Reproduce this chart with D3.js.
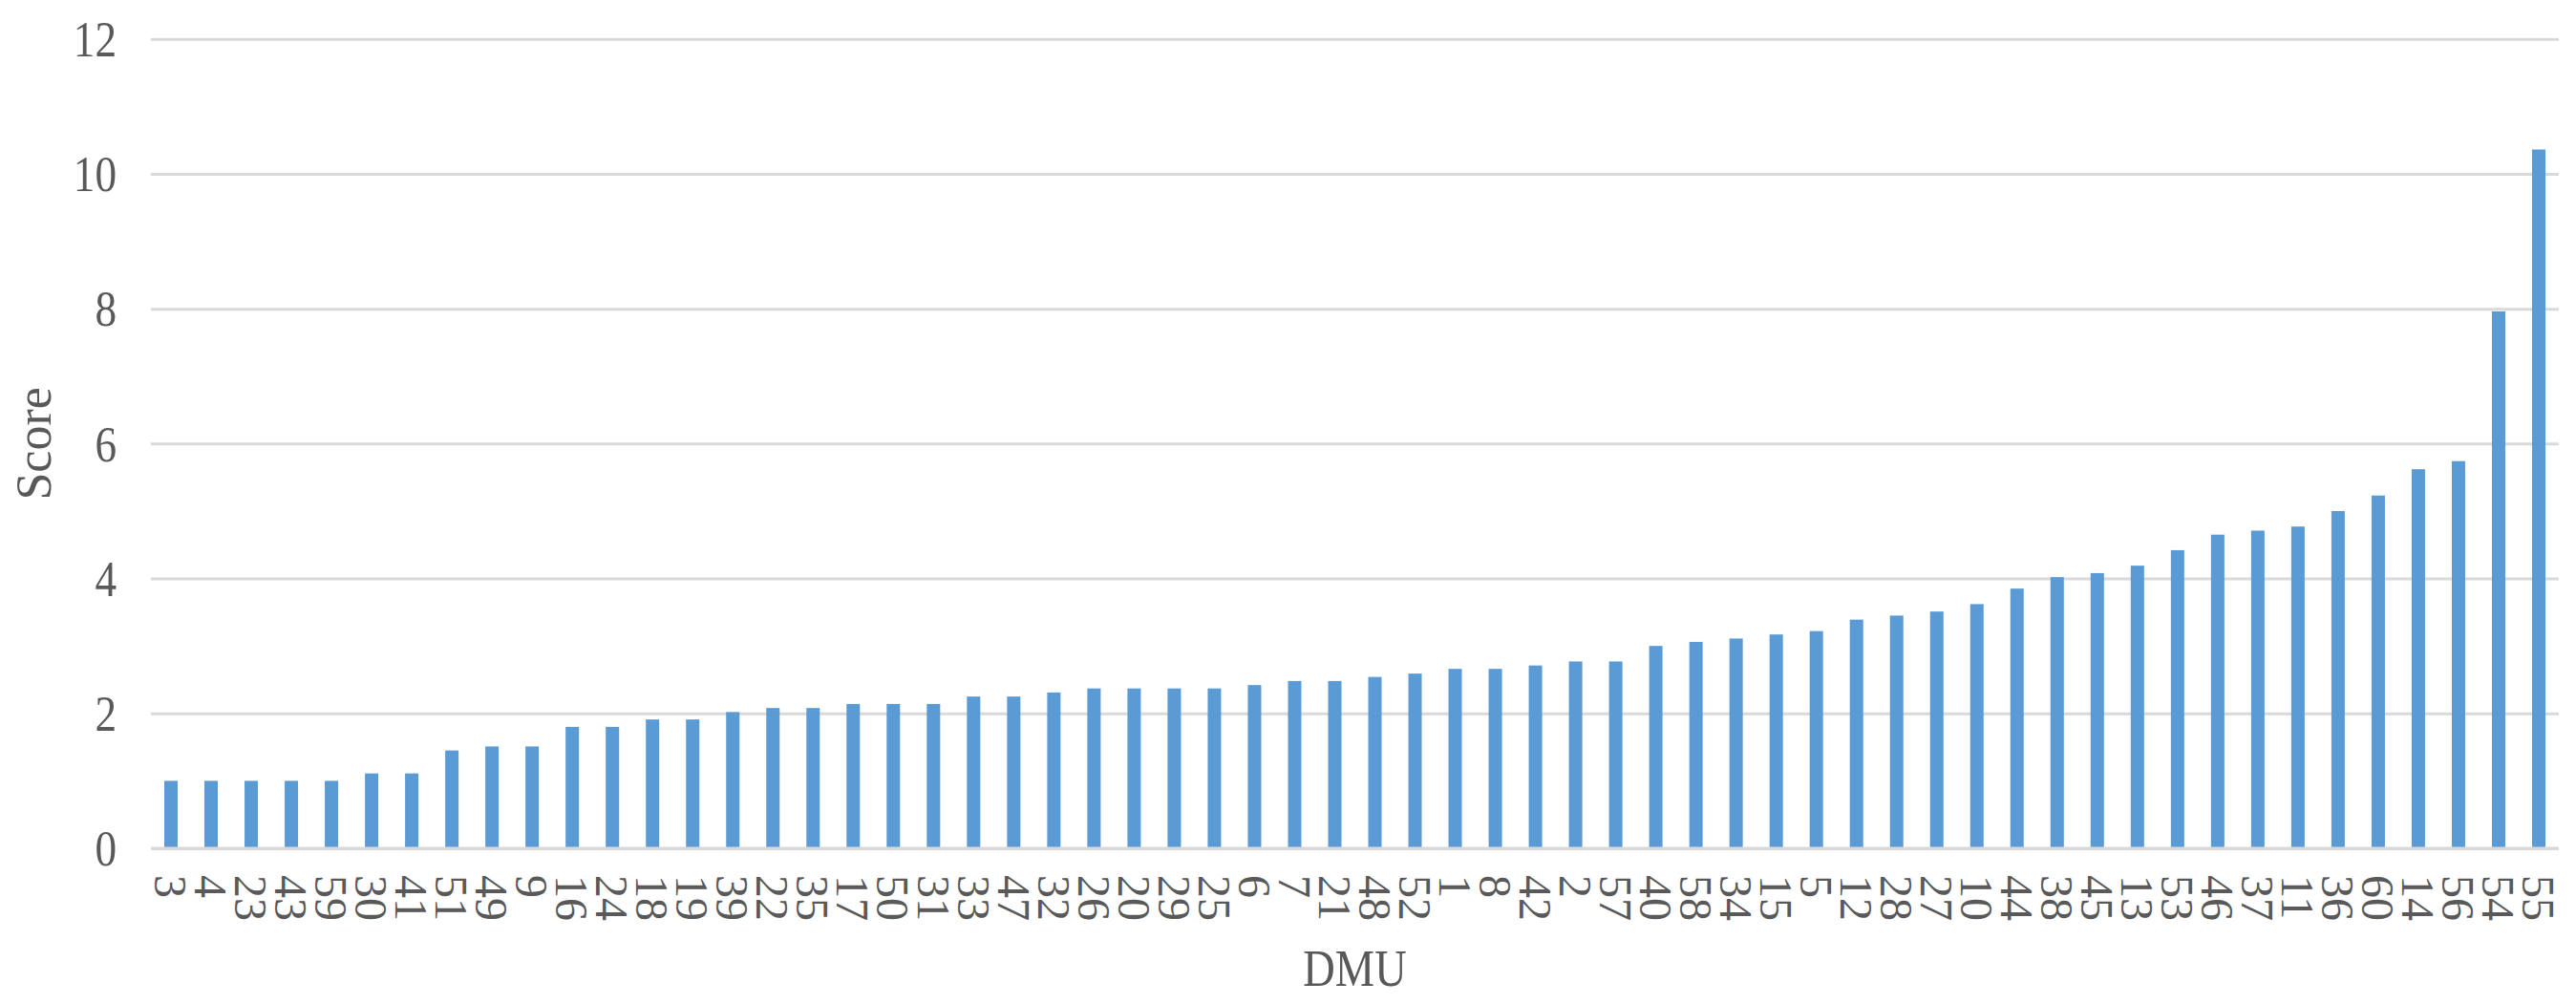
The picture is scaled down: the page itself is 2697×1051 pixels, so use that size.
<!DOCTYPE html>
<html>
<head>
<meta charset="utf-8">
<script src="https://cdn.jsdelivr.net/npm/d3@7"></script>
<style>
  body { margin: 0; background: #fff; }
  svg { display: block; font-family: 'Liberation Serif', 'Times New Roman', serif; }
</style>
</head>
<body>
<div id="chart"></div>
<script>
// DMU ids, sorted by score as in the figure
const dmus = [3, 4, 23, 43, 59, 30, 41, 51, 49, 9, 16, 24, 18, 19, 39, 22, 35, 17, 50, 31,
  33, 47, 32, 26, 20, 29, 25, 6, 7, 21, 48, 52, 1, 8, 42, 2, 57, 40, 58, 34,
  15, 5, 12, 28, 27, 10, 44, 38, 45, 13, 53, 46, 37, 11, 36, 60, 14, 56, 54, 55]

const scores = [1.0, 1.0, 1.0, 1.0, 1.0, 1.11, 1.11, 1.45, 1.51, 1.51,
  1.8, 1.8, 1.91, 1.91, 2.02, 2.08, 2.08, 2.14, 2.14, 2.14,
  2.25, 2.25, 2.31, 2.37, 2.37, 2.37, 2.37, 2.42, 2.48, 2.48,
  2.54, 2.59, 2.66, 2.66, 2.71, 2.77, 2.77, 3.0, 3.06, 3.11,
  3.17, 3.22, 3.39, 3.45, 3.51, 3.62, 3.85, 4.02, 4.08, 4.19,
  4.42, 4.65, 4.71, 4.77, 5.0, 5.23, 5.62, 5.74, 7.96, 10.36]

const yTicks = [0, 2, 4, 6, 8, 10, 12]

const width = 2697
const height = 1051
const margin = { top: 40.7, right: 18, bottom: 163, left: 158 }
const textColor = '#595959'
const gridColor = '#d9d9d9'
const serif = "'Liberation Serif', 'Times New Roman', serif"

const svg = d3
  .select('#chart')
  .append('svg')
  .attr('width', width)
  .attr('height', height)

const x = d3
  .scaleBand()
  .domain(dmus.map(String))
  .range([margin.left, width - margin.right])
  .paddingInner(2 / 3)
  .paddingOuter(1 / 3)

const y = d3
  .scaleLinear()
  .domain([0, 12])
  .range([height - margin.bottom, margin.top])

// gridlines + y labels
const squeeze = 0.87
const yAxis = svg
  .append('g')
  .attr('transform', `translate(${margin.left},0)`)
  .call(
    d3.axisLeft(y)
      .tickValues(yTicks)
      .tickSize(-(width - margin.left - margin.right))
      .tickPadding(0)
      .tickFormat(d3.format('d'))
  )
  .attr('font-family', serif)
yAxis.select('.domain').remove()
yAxis.selectAll('.tick line').attr('stroke', gridColor).attr('stroke-width', 3)
yAxis
  .selectAll('.tick text')
  .attr('fill', textColor)
  .attr('font-size', 52)
  .attr('x', -36 / squeeze)
  .attr('dy', '0.34em')
  .attr('transform', `scale(${squeeze},1)`)

// bars
svg
  .append('g')
  .selectAll('rect')
  .data(scores)
  .join('rect')
  .attr('x', (d, i) => x(String(dmus[i])))
  .attr('y', d => y(d))
  .attr('width', x.bandwidth())
  .attr('height', d => y(0) - y(d))
  .attr('fill', '#5b9bd5')

// x labels, rotated
const xAxis = svg
  .append('g')
  .attr('transform', `translate(0,${y(0)})`)
  .call(d3.axisBottom(x).tickSize(0).tickPadding(0))
  .attr('font-family', serif)
xAxis.select('.domain').remove()
xAxis
  .selectAll('.tick text')
  .attr('fill', textColor)
  .attr('font-size', 48)
  .attr('text-anchor', 'start')
  .attr('x', 0)
  .attr('y', 0)
  .attr('dy', '0.35em')
  .attr('transform', 'translate(0,28) rotate(90)')

// baseline
svg
  .append('line')
  .attr('x1', margin.left)
  .attr('x2', width - margin.right)
  .attr('y1', y(0))
  .attr('y2', y(0))
  .attr('stroke', gridColor)
  .attr('stroke-width', 3)

// axis titles
svg
  .append('text')
  .attr('transform', `translate(${(margin.left + width - margin.right) / 2},1032) scale(0.86,1)`)
  .attr('text-anchor', 'middle')
  .attr('font-size', 54)
  .attr('fill', textColor)
  .text('DMU')

svg
  .append('text')
  .attr('transform', `translate(53,${(margin.top + y(0)) / 2}) rotate(-90)`)
  .attr('text-anchor', 'middle')
  .attr('font-size', 52)
  .attr('fill', textColor)
  .text('Score')
</script>
</body>
</html>
